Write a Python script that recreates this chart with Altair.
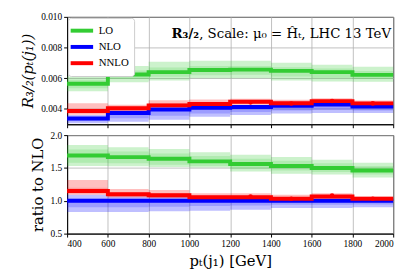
import altair as alt
import pandas as pd

edges = [400, 600, 800, 1000, 1200, 1400, 1600, 1800, 2000]
series = ["LO", "NLO", "NNLO"]
colors = ["#33cc33", "#0000ff", "#ff0000"]
x_ticks = [400, 600, 800, 1000, 1200, 1400, 1600, 1800, 2000]

# ---- top panel: R_{3/2} ----
lo_c = [0.00564, 0.00624, 0.00640, 0.00654, 0.00656, 0.00648, 0.00640, 0.00622]
lo_hi = [0.00611, 0.00680, 0.00708, 0.00714, 0.00714, 0.00701, 0.00688, 0.00675]
lo_lo = [0.00516, 0.00574, 0.00585, 0.00600, 0.00600, 0.00585, 0.00579, 0.00577]
lo_in_hi = [0.00590, 0.00650, 0.00670, 0.00680, 0.00680, 0.00672, 0.00663, 0.00648]
lo_in_lo = [0.00535, 0.00595, 0.00610, 0.00620, 0.00622, 0.00612, 0.00604, 0.00595]

nlo_c = [0.00337, 0.00374, 0.00396, 0.00407, 0.00413, 0.00420, 0.00428, 0.00415]
nlo_hi = [0.00360, 0.00392, 0.00413, 0.00418, 0.00422, 0.00428, 0.00436, 0.00424]
nlo_lo = [0.00306, 0.00316, 0.00330, 0.00349, 0.00360, 0.00370, 0.00374, 0.00374]
nlo_in_hi = [0.00345, 0.00382, 0.00402, 0.00412, 0.00417, 0.00424, 0.00432, 0.00419]
nlo_in_lo = [0.00320, 0.00340, 0.00355, 0.00370, 0.00380, 0.00390, 0.00395, 0.00390]

nnlo_c = [0.00386, 0.00405, 0.00423, 0.00432, 0.00447, 0.00437, 0.00451, 0.00436]
nnlo_hi = [0.00437, 0.00428, 0.00456, 0.00461, 0.00467, 0.00460, 0.00470, 0.00455]
nnlo_lo = [0.00362, 0.00382, 0.00410, 0.00418, 0.00428, 0.00422, 0.00432, 0.00420]
nnlo_in_hi = [0.00400, 0.00415, 0.00438, 0.00445, 0.00457, 0.00448, 0.00461, 0.00445]
nnlo_in_lo = [0.00372, 0.00392, 0.00415, 0.00424, 0.00436, 0.00428, 0.00440, 0.00427]

pts_x = [1300, 1500, 1700, 1900]
pts_top = [0.00443, 0.00435, 0.00452, 0.00436]
pts_top_err = [0.00005, 0.00005, 0.00006, 0.00005]

# ---- bottom panel: ratio to NLO ----
lo_r = [1.69, 1.665, 1.64, 1.60, 1.56, 1.53, 1.50, 1.46]
lo_r_hi = [1.85, 1.815, 1.79, 1.74, 1.70, 1.665, 1.625, 1.58]
lo_r_lo = [1.53, 1.525, 1.515, 1.505, 1.445, 1.41, 1.40, 1.355]
lo_r_in_hi = [1.78, 1.75, 1.72, 1.68, 1.64, 1.61, 1.57, 1.53]
lo_r_in_lo = [1.58, 1.57, 1.55, 1.53, 1.49, 1.46, 1.44, 1.40]

nlo_r = [1.0, 1.0, 1.0, 1.0, 1.0, 1.0, 1.0, 1.0]
nlo_r_hi = [1.09, 1.065, 1.065, 1.05, 1.02, 1.02, 1.02, 1.01]
nlo_r_lo = [0.83, 0.83, 0.84, 0.85, 0.865, 0.89, 0.89, 0.90]
nlo_r_in_hi = [1.03, 1.03, 1.03, 1.02, 1.01, 1.01, 1.01, 1.005]
nlo_r_in_lo = [0.90, 0.90, 0.91, 0.92, 0.93, 0.94, 0.94, 0.945]

nnlo_r = [1.15, 1.10, 1.085, 1.055, 1.055, 1.03, 1.065, 1.03]
nnlo_r_hi = [1.315, 1.18, 1.165, 1.115, 1.115, 1.09, 1.115, 1.065]
nnlo_r_lo = [1.09, 1.05, 1.04, 1.015, 1.005, 0.99, 1.015, 0.98]
nnlo_r_in_hi = [1.20, 1.13, 1.12, 1.08, 1.08, 1.055, 1.085, 1.045]
nnlo_r_in_lo = [1.11, 1.065, 1.055, 1.03, 1.025, 1.005, 1.035, 0.995]

pts_bot = [1.065, 1.03, 1.08, 1.03]
pts_bot_err = [0.012, 0.012, 0.015, 0.012]

title_bold = "R₃/₂"
title_rest = ", Scale: μ₀ = Ĥₜ, LHC 13 TeV"
y_title_top = "R₃/₂(pₜ(j₁))"
y_title_bot = "ratio to NLO"
x_title = "pₜ(j₁) [GeV]"

FONT = "Liberation Serif"
TFONT = "DejaVu Serif"


def band_df(parts):
    rows = []
    for s, (lo, hi, ilo, ihi) in zip(series, parts):
        for i in range(len(lo)):
            rows.append({"s": s, "x0": edges[i], "x1": edges[i + 1],
                         "lo": lo[i], "hi": hi[i], "ilo": ilo[i], "ihi": ihi[i]})
    return pd.DataFrame(rows)


def step_df(cents):
    rows = []
    for s, c in zip(series, cents):
        vals = list(c) + [c[-1]]
        for x, y in zip(edges, vals):
            rows.append({"s": s, "x": x, "y": y})
    return pd.DataFrame(rows)


def pts_df(ys, errs):
    return pd.DataFrame({"x": pts_x, "y": ys,
                         "ylo": [a - b for a, b in zip(ys, errs)],
                         "yhi": [a + b for a, b in zip(ys, errs)]})


def panel(bands, steps, pts, ydom, yvals, yfmt, ytitle, bottom, height, legend):
    xs = alt.Scale(domain=[400, 2000], nice=False, zero=False)
    ys = alt.Scale(domain=ydom, nice=False, zero=False)
    # no explicit domain here (alphabetical order = series order), so that the
    # disabled fill legend is not merged with the colour legend
    fill_scale = alt.Scale(range=colors)
    if bottom:
        xaxis = alt.Axis(values=x_ticks, format="d", title=x_title, grid=True,
                         labelOverlap=False)
    else:
        xaxis = alt.Axis(values=x_ticks, labels=False, title=None, grid=True)
    yaxis = alt.Axis(values=yvals, format=yfmt, title=ytitle, grid=True,
                     labelOverlap=False,
                     titleFontStyle="italic" if not bottom else "normal")
    outer = alt.Chart(bands).mark_rect(opacity=0.25).encode(
        x=alt.X("x0:Q", scale=xs, axis=xaxis), x2="x1:Q",
        y=alt.Y("lo:Q", scale=ys, axis=yaxis), y2="hi:Q",
        fill=alt.Fill("s:N", scale=fill_scale, legend=None))
    inner = alt.Chart(bands).mark_rect(opacity=0.18).encode(
        x=alt.X("x0:Q", scale=xs, axis=xaxis), x2="x1:Q",
        y=alt.Y("ilo:Q", scale=ys, axis=yaxis), y2="ihi:Q",
        fill=alt.Fill("s:N", scale=fill_scale, legend=None))
    if legend:
        leg = alt.Legend(title=None, orient="top-left",
                         symbolType="M-2,0H2", symbolStrokeWidth=4, symbolSize=130,
                         symbolOffset=1, labelFont=FONT,
                         labelFontSize=11, labelColor="black", fillColor="white",
                         strokeColor="#cccccc", cornerRadius=3, padding=5,
                         offset=1, rowPadding=0.5, labelOffset=9)
    else:
        leg = None
    lines = alt.Chart(steps).mark_line(interpolate="step-after", strokeWidth=4).encode(
        x=alt.X("x:Q", scale=xs, axis=xaxis),
        y=alt.Y("y:Q", scale=ys, axis=yaxis),
        color=alt.Color("s:N", scale=alt.Scale(domain=series, range=colors), legend=leg))
    rules = alt.Chart(pts).mark_rule(color="#ff0000", strokeWidth=1.5).encode(
        x=alt.X("x:Q", scale=xs, axis=xaxis),
        y=alt.Y("ylo:Q", scale=ys, axis=yaxis), y2="yhi:Q")
    dots = alt.Chart(pts).mark_circle(color="#ff0000", size=22, opacity=1).encode(
        x=alt.X("x:Q", scale=xs, axis=xaxis),
        y=alt.Y("y:Q", scale=ys, axis=yaxis))
    layers = [outer, inner, lines, rules, dots]
    if not bottom:
        t1 = alt.Chart(pd.DataFrame({"t": [title_bold]})).mark_text(
            align="right", baseline="alphabetic", font=TFONT, fontSize=13.5,
            fontWeight="bold", color="black").encode(
            x=alt.value(134), y=alt.value(21), text="t:N")
        t2 = alt.Chart(pd.DataFrame({"t": [title_rest]})).mark_text(
            align="left", baseline="alphabetic", font=TFONT, fontSize=13.5,
            color="black").encode(
            x=alt.value(134), y=alt.value(21), text="t:N")
        layers += [t1, t2]
    return alt.layer(*layers).properties(width=331, height=height)


top = panel(
    band_df([(lo_lo, lo_hi, lo_in_lo, lo_in_hi), (nlo_lo, nlo_hi, nlo_in_lo, nlo_in_hi),
             (nnlo_lo, nnlo_hi, nnlo_in_lo, nnlo_in_hi)]),
    step_df([lo_c, nlo_c, nnlo_c]), pts_df(pts_top, pts_top_err),
    [0.003, 0.010], [0.004, 0.006, 0.008, 0.010], ".3f", y_title_top, False, 109, True)

bot = panel(
    band_df([(lo_r_lo, lo_r_hi, lo_r_in_lo, lo_r_in_hi),
             (nlo_r_lo, nlo_r_hi, nlo_r_in_lo, nlo_r_in_hi),
             (nnlo_r_lo, nnlo_r_hi, nnlo_r_in_lo, nnlo_r_in_hi)]),
    step_df([lo_r, nlo_r, nnlo_r]), pts_df(pts_bot, pts_bot_err),
    [0.5, 2.0], [0.5, 1.0, 1.5, 2.0], ".1f", y_title_bot, True, 100, False)

chart = alt.vconcat(top, bot, spacing=0).resolve_scale(color="independent", fill="independent").configure(
    padding={"left": 12, "top": 1, "right": 5, "bottom": 5}
).configure_view(stroke="black", strokeWidth=1).configure_axis(
    labelFont=FONT, titleFont=TFONT, labelFontSize=9.5, titleFontSize=15,
    titleFontWeight="normal", labelColor="black", titleColor="black",
    domainColor="black", tickColor="black", tickSize=3.5, gridColor="#b0b0b0",
    gridWidth=0.8, labelPadding=2, titlePadding=5
)

chart.save("out.html", embed_options={"renderer": "svg", "actions": False})
